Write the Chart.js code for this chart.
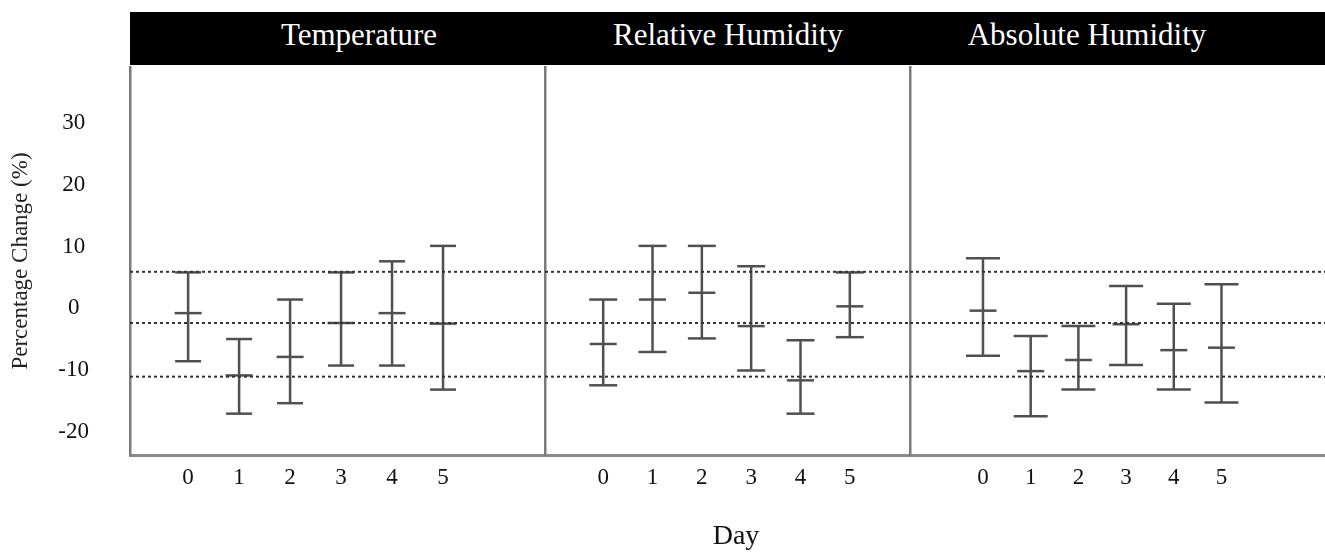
<!DOCTYPE html>
<html>
<head>
<meta charset="utf-8">
<script src="https://cdn.jsdelivr.net/npm/chart.js@4/dist/chart.umd.min.js"></script>
<style>
  body { margin: 0; background: #fff; }
  #wrap { position: relative; width: 1325px; height: 553px; overflow: hidden; font-family: 'Liberation Serif', 'Times New Roman', serif; }
  #header { position: absolute; left: 130px; top: 12px; width: 1195px; height: 53px; background: #000; }
  #header span { position: absolute; top: -4px; line-height: 53px; font-size: 31px; color: #fff; transform: translateX(-50%); white-space: nowrap; }
  canvas { position: absolute; top: 0; }
  #dayLabel { position: absolute; left: 736px; top: 521px; transform: translateX(-50%); font-size: 28px; line-height: 28px; color: #111; }
</style>
</head>
<body>
<div id="wrap">
  <div id="header"></div>
  <canvas id="panel0" width="545" height="553" style="left:0px"></canvas>
  <canvas id="panel1" width="370" height="553" style="left:540px"></canvas>
  <canvas id="panel2" width="420" height="553" style="left:905px"></canvas>
  <div id="dayLabel">Day</div>
</div>
<script>
// values (percentage change)
const days = [0, 1, 2, 3, 4, 5];
const panelTitles = ['Temperature', 'Relative Humidity', 'Absolute Humidity'];
const yTicks = [-20, -10, 0, 10, 20, 30];

const tempHigh = [5.8, -5.0, 1.4, 5.8, 7.6, 10.1];
const tempMean = [-0.8, -10.9, -7.9, -2.4, -0.8, -2.5];
const tempLow = [-8.6, -17.1, -15.4, -9.3, -9.3, -13.2];

const rhHigh = [1.4, 10.1, 10.1, 6.8, -5.2, 5.8];
const rhMean = [-5.8, 1.4, 2.5, -2.9, -11.7, 0.3];
const rhLow = [-12.5, -7.1, -4.9, -10.1, -17.1, -4.7];

const ahHigh = [8.1, -4.5, -2.9, 3.6, 0.7, 3.9];
const ahMean = [-0.4, -10.2, -8.4, -2.6, -6.8, -6.4];
const ahLow = [-7.7, -17.5, -13.2, -9.2, -13.2, -15.3];

// dotted reference lines
const refLines = [5.9, -2.4, -11.1];

const FONT = "'Liberation Serif', 'Times New Roman', serif";
const BAR_COLOR = '#505050';

// panel layout (x range in day units, where header text sits, cap size)
const panels = [
    { id: 'panel0', high: tempHigh, mean: tempMean, low: tempLow, xMin: -1.14, xMax: 7.0, yAxisWidth: 130, titleX: 229, capR: 13 },
    { id: 'panel1', high: rhHigh, mean: rhMean, low: rhLow, xMin: -1.18, xMax: 6.22, yAxisWidth: 5, titleX: 598, capR: 14 },
    { id: 'panel2', high: ahHigh, mean: ahMean, low: ahLow, xMin: -1.53, xMax: 7.17, yAxisWidth: 5, titleX: 957, capR: 17 }
];

// header titles
const header = document.getElementById('header');
panels.forEach((p, i) => {
    const s = document.createElement('span');
    s.textContent = panelTitles[i];
    s.style.left = p.titleX + 'px';
    header.appendChild(s);
});

const buildPanel = (p, index) => {
    const whiskers = [];
    days.forEach((d, i) => {
        whiskers.push({ x: d, y: p.low[i] });
        whiskers.push({ x: d, y: p.high[i] });
        whiskers.push({ x: d, y: null });
    });

    const datasets = refLines.map(v => ({
        type: 'line',
        data: [{ x: p.xMin, y: v }, { x: p.xMax, y: v }],
        borderColor: '#333',
        borderWidth: 2,
        borderDash: [3, 3],
        pointRadius: 0
    }));

    datasets.push({
        type: 'line',
        data: whiskers,
        borderColor: BAR_COLOR,
        borderWidth: 2.5,
        spanGaps: false,
        pointStyle: 'line',
        pointRadius: p.capR,
        pointBorderWidth: 2.5,
        pointBorderColor: BAR_COLOR
    });

    datasets.push({
        type: 'line',
        data: days.map((d, i) => ({ x: d, y: p.mean[i] })),
        showLine: false,
        pointStyle: 'line',
        pointRadius: 13.5,
        pointBorderWidth: 2.5,
        pointBorderColor: BAR_COLOR
    });

    const first = index === 0;

    new Chart(document.getElementById(p.id), {
        type: 'line',
        data: { datasets: datasets },
        options: {
            responsive: false,
            animation: false,
            events: [],
            layout: { autoPadding: false, padding: { top: 67, right: 0, left: 0, bottom: 0 } },
            plugins: { legend: { display: false }, tooltip: { enabled: false } },
            scales: {
                x: {
                    type: 'linear',
                    min: p.xMin,
                    max: p.xMax,
                    afterBuildTicks: (scale) => { scale.ticks = days.map(v => ({ value: v })); },
                    afterFit: (scale) => { scale.height = 98; },
                    grid: { display: false, drawTicks: false },
                    border: { display: true, color: '#8a8a8a', width: 3 },
                    ticks: {
                        padding: 9,
                        color: '#111',
                        font: { family: FONT, size: 23 },
                        maxRotation: 0,
                        autoSkip: false
                    }
                },
                y: {
                    type: 'linear',
                    min: -23.8,
                    max: 39.1,
                    afterBuildTicks: (scale) => { scale.ticks = yTicks.map(v => ({ value: v })); },
                    afterFit: (scale) => { scale.width = p.yAxisWidth; },
                    grid: { display: false, drawTicks: false },
                    border: { display: true, color: '#7a7a7a', width: 2.5 },
                    ticks: {
                        display: first,
                        crossAlign: 'center',
                        padding: 41,
                        color: '#111',
                        font: { family: FONT, size: 23 }
                    },
                    title: {
                        display: first,
                        text: 'Percentage Change (%)',
                        color: '#222',
                        font: { family: FONT, size: 23 },
                        padding: { top: 7, bottom: 0 }
                    }
                }
            }
        }
    });
};

panels.forEach(buildPanel);
</script>
</body>
</html>
